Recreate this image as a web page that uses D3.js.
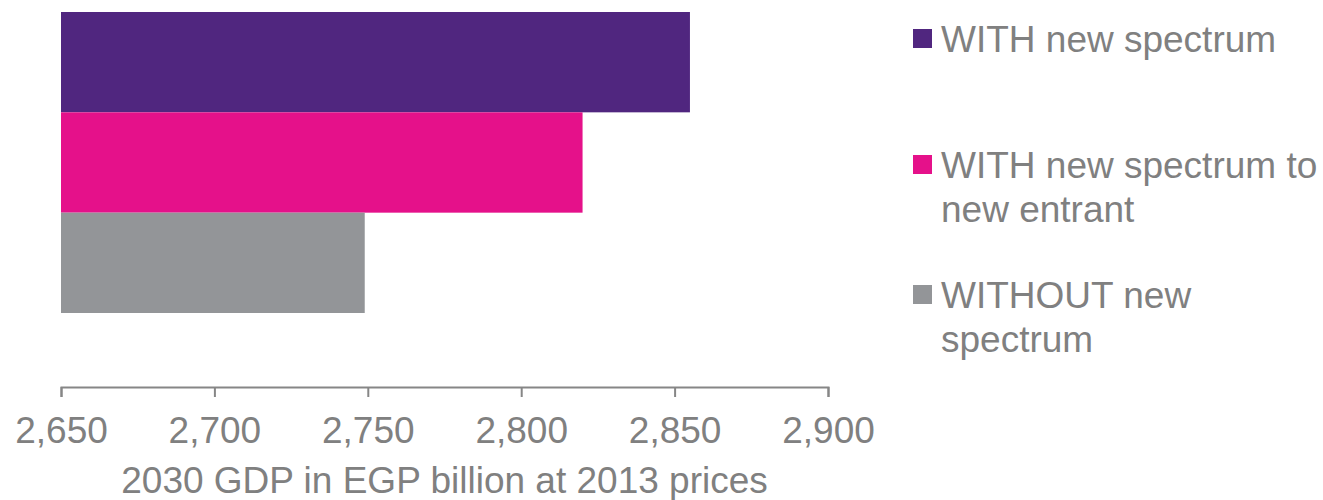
<!DOCTYPE html>
<html>
<head>
<meta charset="utf-8">
<script src="https://cdn.jsdelivr.net/npm/d3@7"></script>
<style>
  body { margin: 0; background: #fff; }
  text { font-family: "Liberation Sans", Arial, sans-serif; fill: #808080; }
</style>
</head>
<body>
<svg id="chart" width="1323" height="500"></svg>
<script>
const categories = [
  "WITH new spectrum",
  "WITH new spectrum to new entrant",
  "WITHOUT new spectrum",
];
const values = [2855, 2820, 2749];
const colors = ["#50267f", "#e5118a", "#939598"];
const tickValues = [2650, 2700, 2750, 2800, 2850, 2900];
const axisTitle = "2030 GDP in EGP billion at 2013 prices";

const width = 1323;
const height = 500;
const fontSize = 37;
const textColor = "#808080";
const axisY = 387;

const svg = d3.select("#chart");

const x = d3.scaleLinear().domain([2650, 2900]).range([61, 828]);
const y = d3.scaleBand().domain(categories).range([12, 313]).padding(0);

// bars
svg
  .selectAll("rect.bar")
  .data(categories)
  .enter()
  .append("rect")
  .attr("class", "bar")
  .attr("x", x(2650))
  .attr("y", (d) => y(d))
  .attr("width", (d, i) => x(values[i]) - x(2650))
  .attr("height", y.bandwidth())
  .attr("fill", (d, i) => colors[i]);

// x axis
const axis = svg
  .append("g")
  .attr("transform", "translate(0," + axisY + ")")
  .call(
    d3
      .axisBottom(x)
      .tickValues(tickValues)
      .tickFormat(d3.format(","))
      .tickSize(10)
      .tickSizeOuter(10)
      .tickPadding(20)
  );
axis.select(".domain").attr("stroke", "#868686").attr("stroke-width", 2);
axis.selectAll(".tick line").attr("stroke", "#868686").attr("stroke-width", 2);
axis
  .selectAll(".tick text")
  .attr("fill", textColor)
  .style("font-size", fontSize + "px")
  .attr("dy", null)
  .attr("y", 443 - axisY);

svg
  .append("text")
  .attr("x", (x(2650) + x(2900)) / 2)
  .attr("y", 493)
  .attr("text-anchor", "middle")
  .style("font-size", fontSize + "px")
  .text(axisTitle);

// legend
const legendX = 913;
const legendBaselines = [52, 178, 308];
const lineHeight = 44;
const maxTextWidth = 385;

const items = svg
  .selectAll("g.legend")
  .data(categories)
  .enter()
  .append("g")
  .attr("class", "legend")
  .attr("transform", (d, i) => "translate(" + legendX + "," + legendBaselines[i] + ")");

items
  .append("rect")
  .attr("x", 0)
  .attr("y", -23)
  .attr("width", 19)
  .attr("height", 19)
  .attr("fill", (d, i) => colors[i]);

items.each(function (d) {
  const g = d3.select(this);
  const words = d.split(" ");
  const t = g.append("text").attr("x", 28).attr("y", 0).style("font-size", fontSize + "px");
  let line = [];
  let lineNo = 0;
  let tspan = t.append("tspan").attr("x", 28).attr("y", 0);
  words.forEach((w) => {
    line.push(w);
    tspan.text(line.join(" "));
    if (tspan.node().getComputedTextLength() > maxTextWidth && line.length > 1) {
      line.pop();
      tspan.text(line.join(" "));
      line = [w];
      lineNo++;
      tspan = t.append("tspan").attr("x", 28).attr("y", lineNo * lineHeight).text(w);
    }
  });
});
</script>
</body>
</html>
